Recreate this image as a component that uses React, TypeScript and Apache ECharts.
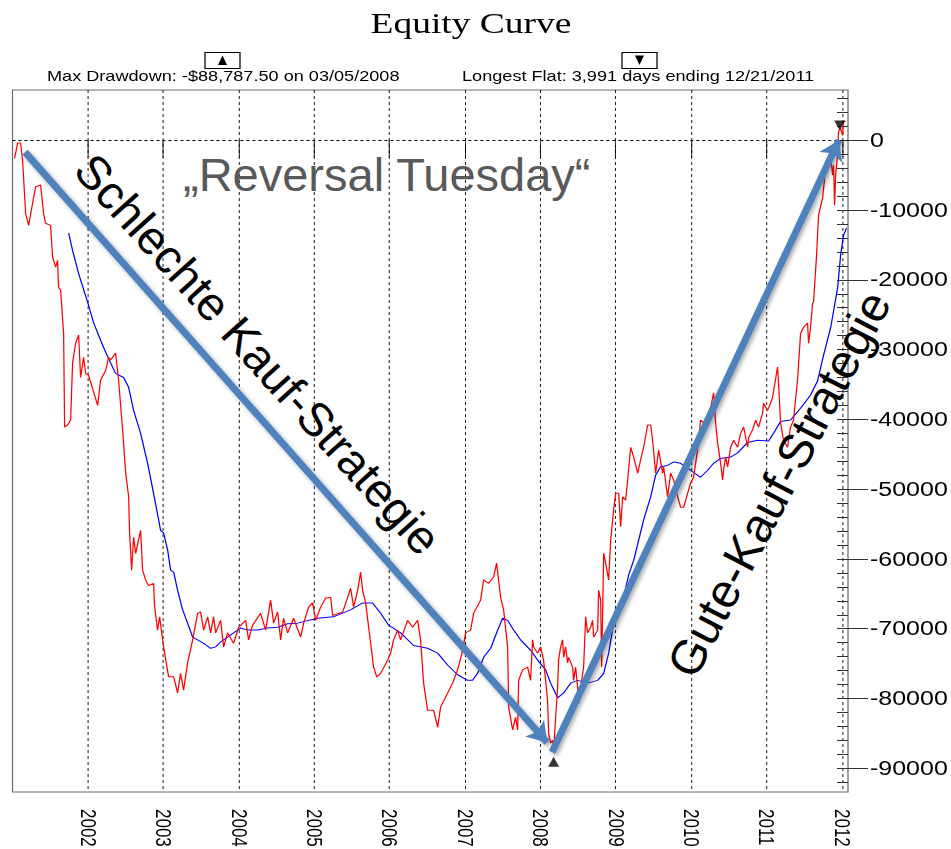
import React, { useEffect, useRef } from 'react';
import * as echarts from 'echarts';

// ---------- data ----------
const yearTicks = [2002, 2003, 2004, 2005, 2006, 2007, 2008, 2009, 2010, 2011, 2012];
const yMajorTicks = [0, -10000, -20000, -30000, -40000, -50000, -60000, -70000, -80000, -90000];
const yMinorTicks = [6000, 4000, 2000, 0, -2000, -4000, -6000, -8000, -10000, -12000, -14000, -16000, -18000, -20000, -22000, -24000, -26000, -28000, -30000, -32000, -34000, -36000, -38000, -40000, -42000, -44000, -46000, -48000, -50000, -52000, -54000, -56000, -58000, -60000, -62000, -64000, -66000, -68000, -70000, -72000, -74000, -76000, -78000, -80000, -82000, -84000, -86000, -88000, -90000, -92000];

const X_MIN = 2001;
const X_MAX = 2012.08;
const Y_MIN = -93400;
const Y_MAX = 7200;

const maxDrawdownPoint = [[2008.176, -88787.5]];
const newHighPoint = [[2011.97, 1700]];

const equityCurve = [
  [2001.028, -2600], [2001.068, -400], [2001.107, -400], [2001.134, -2900], [2001.174, -10500], [2001.214, -12200], [2001.267, -9000], [2001.306, -6700], [2001.373, -6400], [2001.412, -10500], [2001.439, -11900], [2001.505, -12200], [2001.532, -16800], [2001.572, -18200], [2001.598, -17200], [2001.611, -21100], [2001.638, -21500], [2001.678, -27700], [2001.691, -41100], [2001.731, -40800], [2001.771, -40100], [2001.797, -31900], [2001.837, -29100], [2001.877, -27900], [2001.903, -34000], [2001.943, -31100], [2001.969, -33400], [2002.009, -33700], [2002.129, -38000], [2002.168, -34400], [2002.235, -33000], [2002.275, -31100], [2002.301, -31500], [2002.367, -30500], [2002.407, -34400], [2002.46, -41500], [2002.5, -47600], [2002.54, -51100], [2002.553, -56300], [2002.58, -61600], [2002.606, -56900], [2002.633, -59200], [2002.699, -55900], [2002.725, -61600], [2002.765, -63000], [2002.805, -63800], [2002.871, -63500], [2002.885, -66900], [2002.924, -70200], [2002.951, -68300], [2003.004, -72600], [2003.07, -76900], [2003.137, -76900], [2003.19, -79200], [2003.229, -76400], [2003.269, -78800], [2003.322, -74900], [2003.389, -71600], [2003.455, -67800], [2003.495, -67600], [2003.535, -70200], [2003.588, -68300], [2003.627, -70600], [2003.667, -68300], [2003.694, -70600], [2003.76, -68800], [2003.8, -72600], [2003.853, -70600], [2003.932, -72100], [2003.999, -69800], [2004.092, -68800], [2004.131, -71600], [2004.184, -69500], [2004.29, -67800], [2004.357, -70200], [2004.423, -65900], [2004.463, -69200], [2004.516, -67600], [2004.556, -71600], [2004.595, -68500], [2004.649, -70600], [2004.728, -68500], [2004.821, -71200], [2004.861, -69200], [2004.927, -66900], [2004.98, -66300], [2005.02, -68800], [2005.086, -66900], [2005.153, -65600], [2005.219, -65500], [2005.246, -68100], [2005.379, -67600], [2005.445, -65500], [2005.484, -64200], [2005.524, -66900], [2005.577, -64500], [2005.617, -61900], [2005.643, -64500], [2005.683, -66300], [2005.723, -69800], [2005.789, -75500], [2005.829, -76900], [2005.882, -76400], [2005.975, -74500], [2006.015, -73500], [2006.054, -71600], [2006.107, -70200], [2006.147, -71600], [2006.24, -68800], [2006.306, -69800], [2006.373, -68800], [2006.412, -71600], [2006.452, -77800], [2006.505, -81700], [2006.585, -81700], [2006.638, -84100], [2006.678, -81200], [2006.744, -79800], [2006.837, -77800], [2006.903, -75900], [2006.969, -73100], [2007.009, -70600], [2007.075, -70200], [2007.115, -67800], [2007.208, -65900], [2007.248, -63000], [2007.314, -63500], [2007.38, -62600], [2007.42, -60600], [2007.473, -65500], [2007.513, -67300], [2007.566, -72600], [2007.58, -81200], [2007.633, -84500], [2007.672, -82700], [2007.699, -84500], [2007.712, -77400], [2007.765, -75900], [2007.831, -75500], [2007.871, -77400], [2007.897, -71600], [2007.911, -72600], [2007.964, -73500], [2008.003, -72600], [2008.043, -74500], [2008.096, -80200], [2008.11, -85000], [2008.136, -86400], [2008.163, -86000], [2008.176, -87400], [2008.203, -82700], [2008.229, -78400], [2008.242, -74500], [2008.269, -72600], [2008.295, -71600], [2008.309, -74100], [2008.335, -72600], [2008.362, -74900], [2008.375, -74100], [2008.428, -75500], [2008.441, -77400], [2008.468, -75500], [2008.494, -78400], [2008.508, -80700], [2008.534, -78400], [2008.574, -75500], [2008.601, -68300], [2008.627, -70600], [2008.667, -69800], [2008.693, -68800], [2008.707, -71200], [2008.76, -70200], [2008.773, -64500], [2008.8, -65900], [2008.813, -75500], [2008.84, -59200], [2008.866, -60600], [2008.906, -63000], [2008.933, -57300], [2008.972, -53000], [2008.999, -50600], [2009.039, -50600], [2009.065, -55400], [2009.092, -51100], [2009.131, -51600], [2009.158, -48700], [2009.198, -44000], [2009.238, -45400], [2009.291, -47700], [2009.33, -45800], [2009.37, -44000], [2009.423, -40800], [2009.463, -40800], [2009.489, -43000], [2009.529, -47700], [2009.569, -44400], [2009.622, -47700], [2009.635, -46800], [2009.688, -51100], [2009.728, -47700], [2009.768, -48700], [2009.821, -51100], [2009.861, -52600], [2009.9, -52600], [2009.953, -50600], [2009.993, -49100], [2010.032, -48300], [2010.085, -44400], [2010.099, -43000], [2010.125, -40100], [2010.165, -40500], [2010.218, -39700], [2010.258, -38300], [2010.298, -36200], [2010.324, -40500], [2010.351, -43400], [2010.391, -46300], [2010.417, -48700], [2010.43, -47300], [2010.457, -45400], [2010.484, -46800], [2010.523, -44000], [2010.563, -43000], [2010.616, -44000], [2010.656, -42000], [2010.696, -41100], [2010.749, -44000], [2010.762, -42600], [2010.815, -41500], [2010.855, -40100], [2010.894, -41100], [2010.947, -39100], [2010.96, -37700], [2011.013, -38700], [2011.053, -37700], [2011.08, -36800], [2011.146, -32500], [2011.159, -34800], [2011.186, -40500], [2011.225, -43000], [2011.278, -44000], [2011.318, -41100], [2011.358, -40100], [2011.384, -37200], [2011.411, -34400], [2011.451, -27700], [2011.491, -26800], [2011.544, -26200], [2011.557, -29100], [2011.584, -26800], [2011.61, -23400], [2011.624, -23100], [2011.663, -16500], [2011.69, -10700], [2011.743, -8300], [2011.756, -6900], [2011.783, -4000], [2011.809, -2600], [2011.823, -4000], [2011.849, -2100], [2011.876, -5000], [2011.889, -3600], [2011.902, -9300], [2011.916, -5000], [2011.942, -2100], [2011.955, 1300], [2011.982, 1700], [2012.008, 700], [2012.021, 2700], [2012.048, 2700],
];

const averageCurve = [
  [2001.745, -13300], [2001.797, -15800], [2001.877, -19100], [2001.996, -23200], [2002.077, -26200], [2002.208, -29700], [2002.301, -31900], [2002.367, -33400], [2002.473, -34000], [2002.54, -35400], [2002.606, -38700], [2002.699, -42000], [2002.792, -46300], [2002.871, -50600], [2002.964, -55900], [2003.004, -56300], [2003.057, -58700], [2003.097, -61600], [2003.137, -61900], [2003.19, -64500], [2003.256, -67300], [2003.322, -69200], [2003.389, -71200], [2003.455, -71600], [2003.535, -72100], [2003.627, -72800], [2003.694, -72600], [2003.76, -71900], [2003.853, -71200], [2003.932, -70600], [2004.025, -69900], [2004.118, -70200], [2004.251, -70200], [2004.383, -69900], [2004.516, -69800], [2004.649, -69300], [2004.781, -69200], [2005.042, -68500], [2005.255, -68300], [2005.484, -67300], [2005.643, -66300], [2005.776, -66300], [2005.882, -67800], [2005.988, -69500], [2006.147, -70600], [2006.319, -72400], [2006.505, -72800], [2006.638, -73500], [2006.77, -75200], [2006.903, -76600], [2007.035, -77400], [2007.102, -77400], [2007.168, -76400], [2007.248, -74100], [2007.341, -72800], [2007.434, -70200], [2007.5, -68500], [2007.566, -68800], [2007.646, -70200], [2007.739, -71600], [2007.871, -73100], [2007.964, -74500], [2008.07, -75900], [2008.136, -77800], [2008.229, -79900], [2008.309, -79200], [2008.402, -77800], [2008.494, -77400], [2008.627, -77800], [2008.76, -77400], [2008.84, -76400], [2008.906, -73500], [2008.972, -69200], [2009.065, -67300], [2009.171, -62300], [2009.238, -60200], [2009.304, -57300], [2009.37, -54400], [2009.463, -51100], [2009.529, -48000], [2009.595, -46800], [2009.688, -46600], [2009.768, -46100], [2009.861, -46300], [2009.953, -47000], [2010.032, -47600], [2010.125, -48300], [2010.218, -47300], [2010.298, -46300], [2010.391, -45600], [2010.523, -45400], [2010.616, -44800], [2010.749, -43300], [2010.881, -43000], [2011.027, -43100], [2011.093, -42000], [2011.186, -40300], [2011.318, -40100], [2011.451, -38400], [2011.584, -36500], [2011.676, -34500], [2011.756, -30800], [2011.849, -26900], [2011.942, -21200], [2011.982, -16500], [2012.021, -13600], [2012.061, -12600],
];

const arrowBadStrategy = [[2001.166, -1700], [2008.09, -86300]];
const arrowGoodStrategy = [[2008.155, -87700], [2011.959, 0]];

const chartTitle = 'Equity Curve';
const drawdownText = 'Max Drawdown: -$88,787.50 on 03/05/2008';
const flatText = 'Longest Flat: 3,991 days ending 12/21/2011';
const headline = '\u201EReversal Tuesday\u201C';
const badLabel = 'Schlechte Kauf-Strategie';
const goodLabel = 'Gute-Kauf-Strategie';

// ---------- layout ----------
const W = 951;
const H = 849;
const BASE_W = 761; // base chart is drawn narrower and stretched horizontally like the source image
const SX = W / BASE_W;
const SANS = '"Liberation Sans", Arial, sans-serif';
const SERIF = '"Liberation Serif", "Times New Roman", serif';

const plotLeft = 12.5;
const plotRight = 848;
const plotTop = 90;
const plotBottom = 792;

const baseOption: any = {
  animation: false,
  backgroundColor: '#ffffff',
  grid: {
    left: plotLeft / SX,
    right: BASE_W - plotRight / SX,
    top: plotTop,
    bottom: H - plotBottom,
    show: true,
    borderColor: '#6e6e6e',
    borderWidth: 1,
    backgroundColor: 'transparent',
    outerBoundsMode: 'none',
  },
  xAxis: [
    {
      type: 'value',
      position: 'bottom',
      min: X_MIN,
      max: X_MAX,
      interval: 1,
      axisLine: { show: false },
      axisTick: { show: true, customValues: yearTicks, length: 17, lineStyle: { color: '#000', width: 1 / SX } },
      axisLabel: {
        show: true,
        customValues: yearTicks,
        rotate: -90,
        margin: 17,
        fontSize: 17,
        fontFamily: SANS,
        color: '#000',
        formatter: (v: number) => String(v),
      },
      splitLine: { show: true, lineStyle: { color: '#000', width: 1 / SX, type: [3, 3] } },
    },
    {
      type: 'value',
      position: 'top',
      min: X_MIN,
      max: X_MAX,
      interval: 1,
      axisLine: { show: false },
      axisTick: { show: true, customValues: yearTicks, inside: true, length: 5, lineStyle: { color: '#444', width: 1 / SX } },
      axisLabel: { show: false },
      splitLine: { show: false },
    },
  ],
  yAxis: [
    {
      type: 'value',
      position: 'right',
      min: Y_MIN,
      max: Y_MAX,
      axisLine: { show: false },
      axisTick: { show: true, customValues: yMajorTicks, length: 20 / SX, lineStyle: { color: '#333', width: 1 } },
      axisLabel: {
        show: true,
        customValues: yMajorTicks,
        margin: 22 / SX,
        fontSize: 20,
        fontFamily: SANS,
        color: '#000',
        formatter: (v: number) => String(v),
      },
      splitLine: { show: false },
    },
    {
      type: 'value',
      position: 'right',
      min: Y_MIN,
      max: Y_MAX,
      axisLine: { show: false },
      axisTick: { show: true, customValues: yMinorTicks, inside: true, length: 11 / SX, lineStyle: { color: '#333', width: 1 } },
      axisLabel: { show: false },
      splitLine: { show: false },
    },
  ],
  graphic: [
    {
      type: 'text',
      x: 471 / SX,
      y: 23,
      style: { text: chartTitle, fill: '#000', fontSize: 30, fontFamily: SERIF, align: 'center', verticalAlign: 'middle' },
    },
    {
      type: 'text',
      x: 47 / SX,
      y: 76,
      style: { text: drawdownText, fill: '#000', fontSize: 14.5, fontFamily: SANS, align: 'left', verticalAlign: 'middle' },
    },
    {
      type: 'text',
      x: 462 / SX,
      y: 76,
      style: { text: flatText, fill: '#000', fontSize: 14.5, fontFamily: SANS, align: 'left', verticalAlign: 'middle' },
    },
    {
      type: 'rect',
      shape: { x: 205 / SX, y: 52.5, width: 35 / SX, height: 16 },
      style: { fill: '#fff', stroke: '#000', lineWidth: 1 },
    },
    {
      type: 'polygon',
      shape: { points: [[218 / SX, 65], [227 / SX, 65], [222.5 / SX, 55.5]] },
      style: { fill: '#000' },
    },
    {
      type: 'rect',
      shape: { x: 622 / SX, y: 52.5, width: 35 / SX, height: 16 },
      style: { fill: '#fff', stroke: '#000', lineWidth: 1 },
    },
    {
      type: 'polygon',
      shape: { points: [[635 / SX, 55.5], [644 / SX, 55.5], [639.5 / SX, 65]] },
      style: { fill: '#000' },
    },
  ],
  series: [
    {
      name: 'Equity',
      type: 'line',
      xAxisIndex: 0,
      yAxisIndex: 0,
      data: equityCurve,
      showSymbol: false,
      symbol: 'none',
      lineStyle: { color: '#ff0000', width: 1 },
      z: 3,
      markLine: {
        silent: true,
        symbol: 'none',
        label: { show: false },
        lineStyle: { color: '#000', width: 1, type: [2.4, 2.4] },
        data: [{ yAxis: 0 }],
      },
    },
    {
      name: 'Average',
      type: 'line',
      xAxisIndex: 0,
      yAxisIndex: 0,
      data: averageCurve,
      showSymbol: false,
      symbol: 'none',
      lineStyle: { color: '#0000ff', width: 1 },
      z: 2,
    },
    {
      name: 'Max Drawdown',
      type: 'scatter',
      data: maxDrawdownPoint,
      symbol: 'triangle',
      symbolSize: [11 / SX, 10],
      symbolOffset: [0, 2],
      itemStyle: { color: '#000' },
      z: 4,
    },
    {
      name: 'New High',
      type: 'scatter',
      data: newHighPoint,
      symbol: 'triangle',
      symbolRotate: 180,
      symbolSize: [11 / SX, 10],
      symbolOffset: [0, -3],
      itemStyle: { color: '#000' },
      z: 4,
    },
  ],
};

const overlayOption: any = {
  animation: false,
  backgroundColor: 'transparent',
  grid: {
    left: plotLeft,
    right: W - plotRight,
    top: plotTop,
    bottom: H - plotBottom,
    show: false,
    outerBoundsMode: 'none',
  },
  xAxis: { type: 'value', min: X_MIN, max: X_MAX, show: false },
  yAxis: { type: 'value', min: Y_MIN, max: Y_MAX, show: false },
  series: [
    {
      type: 'lines',
      coordinateSystem: 'cartesian2d',
      silent: true,
      symbol: ['none', 'arrow'],
      symbolSize: 19,
      lineStyle: {
        color: '#4f81bd',
        width: 7,
        opacity: 1,
        curveness: 0,
        shadowColor: 'rgba(0,0,0,0.35)',
        shadowBlur: 4,
        shadowOffsetX: 2,
        shadowOffsetY: 2,
      },
      data: [{ coords: arrowBadStrategy }, { coords: arrowGoodStrategy }],
      z: 5,
    },
  ],
  graphic: [
    {
      type: 'text',
      x: 183,
      y: 174,
      z: 10,
      style: { text: headline, fill: '#595959', fontSize: 47, fontFamily: SANS, align: 'left', verticalAlign: 'middle' },
    },
    {
      type: 'text',
      x: 258,
      y: 354,
      z: 10,
      rotation: (-48 * Math.PI) / 180,
      style: { text: badLabel, fill: '#000', fontSize: 47, fontFamily: SANS, align: 'center', verticalAlign: 'middle' },
    },
    {
      type: 'text',
      x: 779,
      y: 484,
      z: 10,
      rotation: (62.5 * Math.PI) / 180,
      style: { text: goodLabel, fill: '#000', fontSize: 48, fontFamily: SANS, align: 'center', verticalAlign: 'middle' },
    },
  ],
};

export default function App() {
  const baseRef = useRef<HTMLDivElement>(null);
  const overRef = useRef<HTMLDivElement>(null);

  useEffect(() => {
    const base = echarts.init(baseRef.current as HTMLDivElement, null, { renderer: 'svg' });
    const over = echarts.init(overRef.current as HTMLDivElement, null, { renderer: 'svg' });
    base.setOption(baseOption);
    over.setOption(overlayOption);
    return () => {
      base.dispose();
      over.dispose();
    };
  }, []);

  return (
    <div style={{ position: 'absolute', left: 0, top: 0, width: W, height: H, overflow: 'hidden', background: '#fff' }}>
      <div
        ref={baseRef}
        style={{ position: 'absolute', left: 0, top: 0, width: BASE_W, height: H, transform: `scaleX(${SX})`, transformOrigin: '0 0' }}
      />
      <div ref={overRef} style={{ position: 'absolute', left: 0, top: 0, width: W, height: H, pointerEvents: 'none' }} />
    </div>
  );
}
